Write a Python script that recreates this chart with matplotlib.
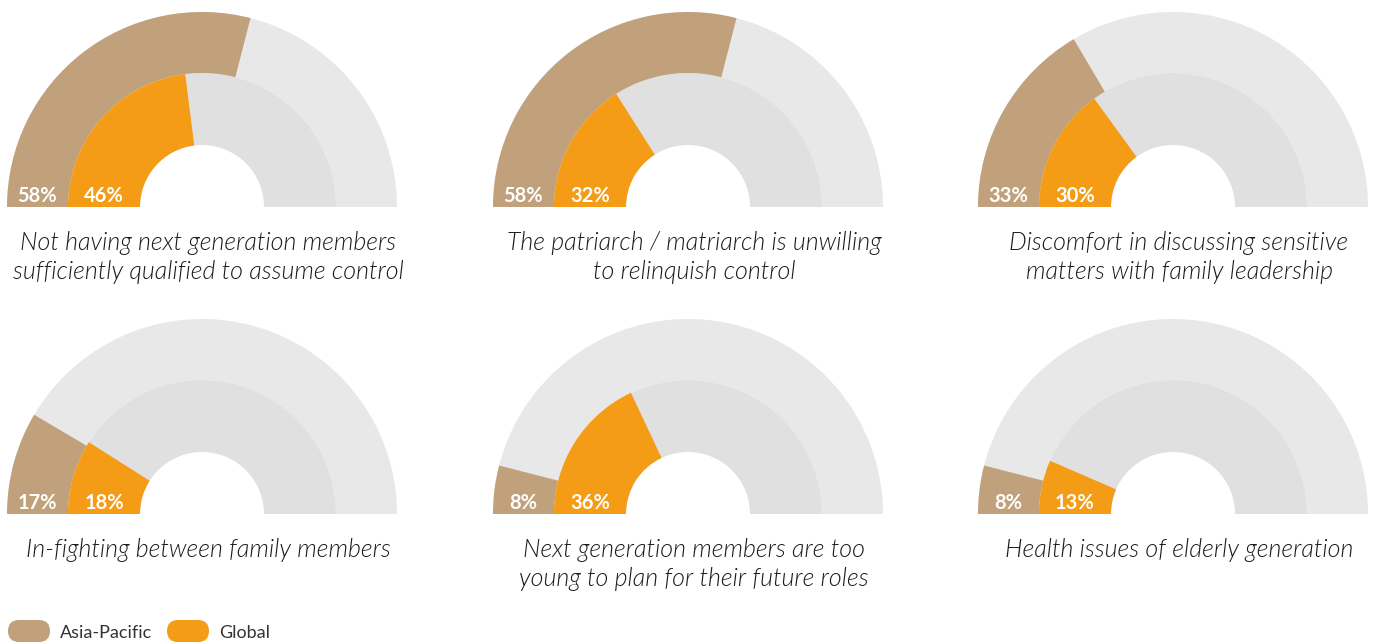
import matplotlib
matplotlib.use("Agg")
import matplotlib.pyplot as plt
from matplotlib.patches import Wedge, FancyBboxPatch

# data
titles = [
    "Not having next generation members\nsufficiently qualified to assume control",
    "The patriarch / matriarch is unwilling\nto relinquish control",
    "Discomfort in discussing sensitive\nmatters with family leadership",
    "In-fighting between family members",
    "Next generation members are too\nyoung to plan for their future roles",
    "Health issues of elderly generation",
]
asia_pacific = [58, 58, 33, 17, 8, 8]
global_vals = [46, 32, 30, 18, 36, 13]
series_names = ["Asia-Pacific", "Global"]

TAN = "#C1A17B"
ORANGE = "#F59C16"
GREY_OUT = "#E8E8E8"
GREY_IN = "#E0E0E0"

W, H = 1379, 642
fig = plt.figure(figsize=(W / 100, H / 100), dpi=100)
ax = fig.add_axes([0, 0, 1, 1])
ax.set_xlim(0, W)
ax.set_ylim(0, H)
ax.axis("off")

R_OUT, R_MID, R_IN = 195, 134, 62
centers_x = [202, 688, 1173]
base_y = [H - 207, H - 514]

for i, title in enumerate(titles):
    cx = centers_x[i % 3]
    cy = base_y[i // 3]
    ap, gl = asia_pacific[i], global_vals[i]
    a_ap = 180 - ap * 1.8
    a_gl = 180 - gl * 1.8
    # background rings
    ax.add_patch(Wedge((cx, cy), R_OUT, 0, 180, width=R_OUT - R_MID, color=GREY_OUT, lw=0))
    ax.add_patch(Wedge((cx, cy), R_MID, 0, 180, width=R_MID - R_IN, color=GREY_IN, lw=0))
    # value arcs
    ax.add_patch(Wedge((cx, cy), R_OUT, a_ap, 180, width=R_OUT - R_MID, color=TAN, lw=0))
    ax.add_patch(Wedge((cx, cy), R_MID, a_gl, 180, width=R_MID - R_IN, color=ORANGE, lw=0))
    # labels
    ax.text(cx - (R_OUT + R_MID) / 2, cy + 11, f"{ap}%", color="white", fontsize=14.5,
            fontweight="bold", ha="center", va="center", family="Lato")
    ax.text(cx - (R_MID + R_IN) / 2, cy + 11, f"{gl}%", color="white", fontsize=14.5,
            fontweight="bold", ha="center", va="center", family="Lato")
    ax.text(cx + 6, cy - 24, title, ha="center", va="top", fontsize=18, style="italic",
            color="#1a1a1a", family="Lato", linespacing=1.25, fontweight=300)

# legend
for x0, col, name in [(8, TAN, series_names[0]), (167, ORANGE, series_names[1])]:
    ax.add_patch(FancyBboxPatch((x0, 0), 42, 22, boxstyle="round,pad=0,rounding_size=11",
                                color=col, lw=0))
    ax.text(x0 + 52, 9, name, ha="left", va="center", fontsize=13, color="#333333",
            family="Lato")

fig.savefig("out.png", dpi=100)
